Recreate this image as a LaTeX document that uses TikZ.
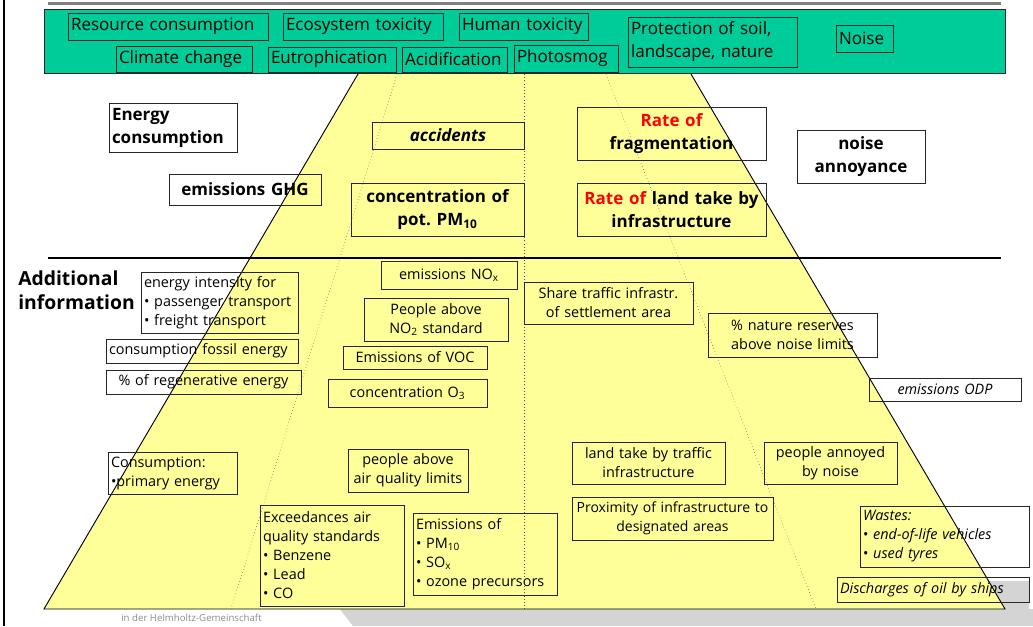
\documentclass[tikz,border=0pt]{standalone}
\usepackage{fontspec}
\setmainfont{Open Sans}
\definecolor{grn}{HTML}{00CC99}
\definecolor{ylw}{HTML}{FFFF99}
\definecolor{foot}{HTML}{D4D4D4}
\definecolor{rd}{HTML}{FF0000}
\newcommand{\bx}[7]{%
  \pgfmathsetmacro\bxw{(#4-#2)*0.75}%
  \pgfmathsetmacro\bxh{(#5-#3)*0.75}%
  \pgfmathsetmacro\bxtw{(#4-#2)*0.75-4.5}%
  \node[box,#6] (#1) at ({(#2+#4)/2},{(#3+#5)/2}) {#7};%
}
\tikzset{
  box/.style={draw=black!85, line width=0.6pt, inner xsep=2.25pt, inner ysep=0pt,
    minimum width=\bxw pt, minimum height=\bxh pt, text width=\bxtw pt, align=center},
  lft/.style={align=left},
  tight/.style={inner xsep=0pt, text width=\bxw pt},
  gtxt/.style={font=\fontsize{12.75}{17.25}\selectfont},
  btxt/.style={font=\bfseries\fontsize{12.75}{17.25}\selectfont},
  stxt/.style={font=\fontsize{10.8}{14.25}\selectfont},
  dotln/.style={dotted, line width=0.4pt, black!70},
}
\begin{document}
\begin{tikzpicture}[x=0.75pt,y=-0.75pt]
\useasboundingbox (0,0) rectangle (1033,626);
\fill[white] (0,0) rectangle (1033,626);
% footer
\fill[foot] (318,581) -- (1029,581) -- (1029,609) -- (1033,609) -- (1033,626) -- (353,626) -- cycle;
\node[anchor=west, inner sep=0, text=black!45, font=\fontsize{7.25}{8}\selectfont] (hgf) at (121,618) {in der Helmholtz-Gemeinschaft};
% frame lines
\draw[line width=1.6pt, black] (4,0) -- (4,626);
\draw[line width=2pt, black!50] (48,3.5) -- (1001,3.5);
% trapezoid
\coordinate (tl) at (358,74);
\coordinate (tr) at (691,74);
\coordinate (br) at (1005,609);
\coordinate (bl) at (44,609);
\fill[ylw] (tl) -- (tr) -- (br) -- (bl) -- cycle;
\draw[line width=0.7pt] (tl) -- (bl) -- (br) -- (tr);
\coordinate (d1t) at (397,74); \coordinate (d1b) at (231,609);
\coordinate (d2t) at (524.5,74); \coordinate (d2b) at (524.5,609);
\coordinate (d3t) at (606,74); \coordinate (d3b) at (816,609);
\draw[dotln] (d1t) -- (d1b);
\draw[dotln] (d2t) -- (d2b);
\draw[dotln] (d3t) -- (d3b);
% green bar
\fill[grn] (44,9) rectangle (1005,73);
\draw[line width=0.7pt, black!85] (44,9) rectangle (1005,73);
% separator
\draw[line width=1.6pt] (48,258) -- (1001,258);
% green boxes
\bx{res}{68}{13}{268}{40}{gtxt,lft}{Resource consumption}
\bx{eco}{283}{13}{443}{40}{gtxt,lft}{Ecosystem toxicity}
\bx{hum}{459}{13}{588}{40}{gtxt,lft}{Human toxicity}
\bx{cli}{116}{46}{252}{72}{gtxt,lft}{Climate change}
\bx{eut}{268}{47}{396}{72}{gtxt,lft}{Eutrophication}
\bx{aci}{402}{47}{507}{72}{gtxt,lft}{Acidification}
\bx{pho}{514}{45}{618}{72}{gtxt,lft}{Photosmog}
\bx{pro}{628}{17}{797}{67}{gtxt,lft}{Protection of soil,\\landscape, nature}
\bx{noi}{836}{25}{893}{52}{gtxt,lft}{Noise}
% headline indicators
\bx{ene}{109}{103}{237}{152}{btxt,lft}{Energy\\consumption}
\bx{ghg}{169}{174}{321}{205}{btxt}{emissions GHG}
\bx{acc}{372}{122}{524}{149}{btxt}{\itshape accidents}
\bx{pm}{351}{183}{524}{236}{btxt}{concentration of\\pot.\ PM\textsubscript{10}}
\bx{frag}{577}{107}{766}{160}{btxt}{\textcolor{rd}{Rate of}\\fragmentation}
\bx{land}{577}{183}{766}{236}{btxt}{\textcolor{rd}{Rate of} land take by\\infrastructure}
\bx{nann}{797}{130}{925}{183}{btxt}{noise\\annoyance}
% additional information
\node[anchor=west, inner sep=0, align=left, font=\bfseries\fontsize{14.5}{18}\selectfont] (addi) at (18,290) {Additional\\information};
\bx{eint}{141}{272}{298}{333}{stxt,lft}{energy intensity for\\• passenger transport\\• freight transport}
\bx{foss}{106}{339}{298}{363}{stxt,lft}{consumption fossil energy}
\bx{reg}{106}{370}{301}{394}{stxt}{\% of regenerative energy}
\bx{nox}{381}{261}{517}{289}{stxt}{emissions NO\textsubscript{x}}
\bx{pno}{364}{298}{508}{341}{stxt}{People above\\NO\textsubscript{2} standard}
\bx{voc}{343}{346}{487}{369}{stxt}{Emissions of VOC}
\bx{ozo}{328}{379}{487}{407}{stxt}{concentration O\textsubscript{3}}
\bx{share}{524}{282}{693}{324}{stxt}{Share traffic infrastr.\\of settlement area}
\bx{nat}{708}{313}{877}{357}{stxt}{\% nature reserves\\above noise limits}
\bx{odp}{869}{378}{1021}{401}{stxt}{\itshape emissions ODP}
\bx{cons}{108}{452}{237}{494}{stxt,lft}{Consumption:\\•primary energy}
\bx{paq}{348}{449}{468}{492}{stxt}{people above\\air quality limits}
\bx{exc}{260}{505}{404}{606}{stxt,lft}{Exceedances air\\quality standards\\• Benzene\\• Lead\\• CO}
\bx{emis}{413}{513}{557}{595}{stxt,lft}{Emissions of\\• PM\textsubscript{10}\\• SO\textsubscript{x}\\• ozone precursors}
\bx{ltt}{572}{442}{725}{484}{stxt}{land take by traffic\\infrastructure}
\bx{ann}{764}{442}{897}{484}{stxt}{people annoyed\\by noise}
\bx{prox}{572}{497}{773}{540}{stxt,tight,font=\fontsize{10.5}{14.25}\selectfont}{Proximity of infrastructure to\\designated areas}
\bx{waste}{860}{506}{1029}{567}{stxt,lft}{\textit{Wastes:}\\• \textit{end-of-life vehicles}\\• \textit{used tyres}}
\bx{oil}{837}{577}{1029}{602}{stxt,lft}{\itshape Discharges of oil by ships}
\end{tikzpicture}
\end{document}
